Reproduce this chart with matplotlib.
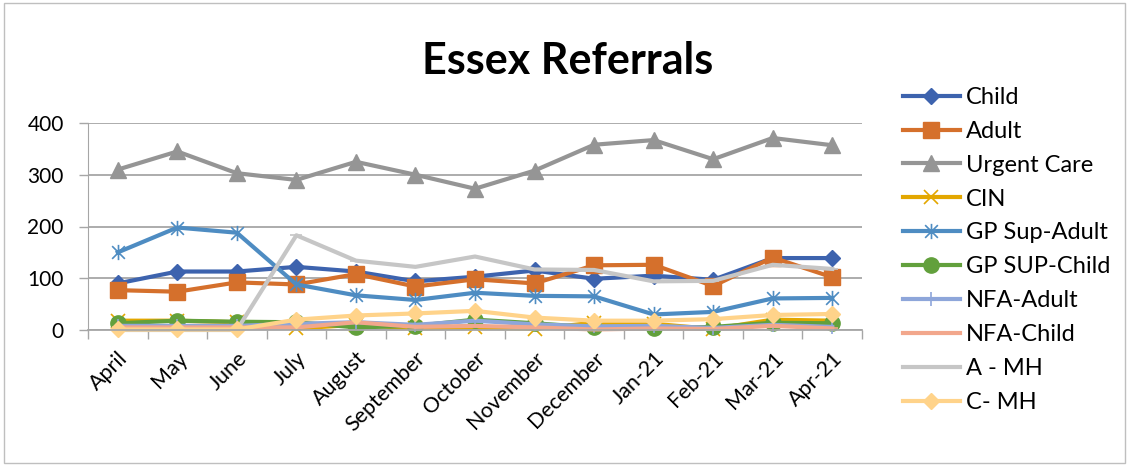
import matplotlib
matplotlib.use("Agg")
import matplotlib.pyplot as plt
from matplotlib.patches import Rectangle
from matplotlib.path import Path

plt.rcParams["font.family"] = ["Lato", "DejaVu Sans"]

months = ["April", "May", "June", "July", "August", "September", "October",
          "November", "December", "Jan-21", "Feb-21", "Mar-21", "Apr-21"]

child = [90, 113, 113, 122, 113, 94, 103, 115, 99, 105, 97, 139, 139]
adult = [77, 74, 92, 88, 108, 84, 98, 90, 125, 126, 85, 140, 102]
urgent_care = [310, 345, 303, 290, 325, 300, 273, 308, 358, 367, 330, 371, 357]
cin = [18, 18, 15, 3, 10, 3, 5, 2, 14, 12, 2, 20, 18]
gp_sup_adult = [150, 198, 188, 88, 67, 58, 72, 66, 65, 30, 35, 61, 62]
gp_sup_child = [13, 18, 16, 15, 5, 8, 20, 13, 5, 3, 6, 14, 13]
nfa_adult = [8, 8, 8, 12, 15, 10, 18, 11, 7, 8, 4, 10, 6]
nfa_child = [5, 5, 5, 5, 15, 6, 8, 5, 1, 3, 2, 8, 3]
a_mh = [0, 0, 0, 183, 134, 122, 142, 117, 116, 94, 95, 126, 118]
c_mh = [1, 1, 1, 20, 28, 32, 37, 24, 18, 18, 21, 29, 31]

# x with a vertical bar, like Excel's asterisk marker
asterisk = Path(
    [(-1, -1), (1, 1), (-1, 1), (1, -1), (0, -1.2), (0, 1.2)],
    [Path.MOVETO, Path.LINETO, Path.MOVETO, Path.LINETO, Path.MOVETO, Path.LINETO],
)

series = [
    ("Child", child, "#3D63AE", "D", 7.8, True),
    ("Adult", adult, "#D5702C", "s", 11.5, True),
    ("Urgent Care", urgent_care, "#959595", "^", 11.5, True),
    ("CIN", cin, "#E3A700", "x", 10, False),
    ("GP Sup-Adult", gp_sup_adult, "#4E8CC2", asterisk, 11, False),
    ("GP SUP-Child", gp_sup_child, "#62A03C", "o", 11, True),
    ("NFA-Adult", nfa_adult, "#8EA6DA", "|", 10, False),
    ("NFA-Child", nfa_child, "#F2A78C", "_", 8, False),
    ("A - MH", a_mh, "#C6C6C6", "_", 8, False),
    ("C- MH", c_mh, "#FFD38A", "D", 8.5, True),
]

fig = plt.figure(figsize=(11.29, 4.66), dpi=100)
ax = fig.add_axes([88 / 1129, 1 - 330 / 466, 774 / 1129, 207 / 466])

x = list(range(len(months)))
for name, vals, color, marker, ms, filled in series:
    ax.plot(x, vals, color=color, linewidth=3, marker=marker, markersize=ms,
            markerfacecolor=color if filled else "none", markeredgecolor=color,
            markeredgewidth=1.2 if not filled else 1, label=name, clip_on=False)

grid_col = "#A6A6A6"
ax.set_xlim(-0.5, len(months) - 0.5)
ax.set_ylim(0, 400)
ax.set_yticks([0, 100, 200, 300, 400])
ax.yaxis.grid(True, color=grid_col, linewidth=1.3)
ax.set_axisbelow(True)
ax.tick_params(axis="y", length=6.5, width=1, color=grid_col, pad=11, labelsize=15)

ax.set_xticks(x)
ax.set_xticklabels(months, rotation=45, ha="right", rotation_mode="anchor", fontsize=15.5)
ax.set_xticks([i - 0.5 for i in range(len(months) + 1)], minor=True)
ax.tick_params(axis="x", which="major", length=0, pad=13)
ax.tick_params(axis="x", which="minor", length=6.5, width=1, color=grid_col)

for side in ["top", "right"]:
    ax.spines[side].set_visible(False)
ax.spines["left"].set_color(grid_col)
ax.spines["bottom"].set_color(grid_col)
ax.spines["bottom"].set_linewidth(1.3)

fig.text(568 / 1129, 1 - 61 / 466, "Essex Referrals", fontsize=31, fontweight="bold",
         ha="center", va="center")

fig.legend(loc="upper left", bbox_to_anchor=(903 / 1129, 1 - 87 / 466), frameon=False,
           fontsize=17, handlelength=2.4, handletextpad=0.25, labelspacing=0.545,
           borderpad=0, borderaxespad=0)

fig.patches.append(Rectangle((4 / 1129, 3 / 466), 1121 / 1129, 460 / 466,
                             transform=fig.transFigure, fill=False,
                             edgecolor="#BFBFBF", linewidth=1))

fig.savefig("out.png", dpi=100)
